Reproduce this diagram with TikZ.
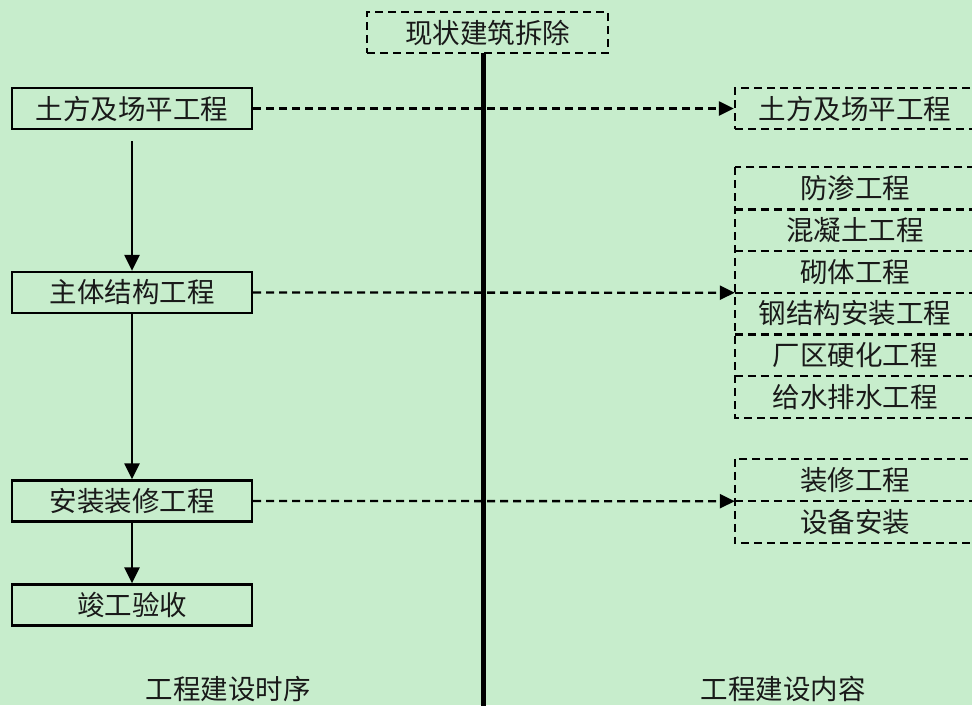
\documentclass[tikz,border=0pt]{standalone}
\usepackage{fontspec}
\newfontfamily\cjk{Noto Sans CJK SC}
\usetikzlibrary{arrows.meta}
\definecolor{bggreen}{RGB}{199,237,204}
\definecolor{ink}{RGB}{25,25,25}
\tikzset{
  txt/.style={font=\cjk\fontsize{27.5}{30}\selectfont, text=ink, inner sep=0pt},
  solidbox/.style={txt, draw=black, line width=2.3pt, minimum width=240pt, minimum height=41pt},
  dashbox/.style={txt, draw=black, line width=2.3pt, dash pattern=on 8pt off 5pt, minimum width=240pt, minimum height=41pt},
  rowbox/.style={txt, minimum width=240pt, minimum height=41.67pt},
  rowbox2/.style={txt, minimum width=240pt, minimum height=42pt},
  dline/.style={draw=black, line width=2.3pt, dash pattern=on 8pt off 5pt},
  dasharrow/.style={dline, -{Triangle[length=15pt,width=14pt]}},
  solidarrow/.style={draw=black, line width=2.3pt, -{Triangle[length=16pt,width=15pt]}},
}
\begin{document}
\begin{tikzpicture}[x=1pt,y=-1pt]
\useasboundingbox (0,0) rectangle (972,705);
\fill[bggreen] (0,0) rectangle (972,705);
\clip (0,0) rectangle (972,705);

% top box and centre line
\node[dashbox, minimum width=241pt] (top) at (487.5,32.5) {现状建筑拆除};
\coordinate (lt) at (483.5,53);
\coordinate (lb) at (483.5,706);
\draw[line width=5pt] (lt) -- (lb);

% left sequence
\node[solidbox] (l1) at (132,108.5) {土方及场平工程};
\node[solidbox] (l2) at (132,292.5) {主体结构工程};
\node[solidbox] (l3) at (132,501) {安装装修工程};
\node[solidbox] (l4) at (132,605) {竣工验收};

\draw[solidarrow, shorten <=11pt] (l1.south) -- (l2.north);
\draw[solidarrow] (l2.south) -- (l3.north);
\draw[solidarrow] (l3.south) -- (l4.north);

% right content
\node[dashbox] (r0) at (855,108.5) {土方及场平工程};

\node[rowbox] (a1) at (855,188.33) {防渗工程};
\node[rowbox] (a2) at (855,230) {混凝土工程};
\node[rowbox] (a3) at (855,271.67) {砌体工程};
\node[rowbox] (a4) at (855,313.33) {钢结构安装工程};
\node[rowbox] (a5) at (855,355) {厂区硬化工程};
\node[rowbox] (a6) at (855,396.67) {给水排水工程};
\draw[dline] (a1.north west) rectangle (a6.south east);
\foreach \n in {a1,a2,a3,a4,a5}
  \draw[dline] (\n.south west) -- (\n.south east);

\node[rowbox2] (b1) at (855,480) {装修工程};
\node[rowbox2] (b2) at (855,522) {设备安装};
\draw[dline] (b1.north west) rectangle (b2.south east);
\draw[dline] (b1.south west) -- (b1.south east);

% dashed arrows
\draw[dasharrow] (l1.east) -- (r0.west);
\draw[dasharrow] (l2.east) -- (a3.south west);
\draw[dasharrow] (l3.east) -- (b1.south west);

% bottom labels
\node[txt] (lab1) at (228,689) {工程建设时序};
\node[txt] (lab2) at (783,689) {工程建设内容};
\end{tikzpicture}
\end{document}
